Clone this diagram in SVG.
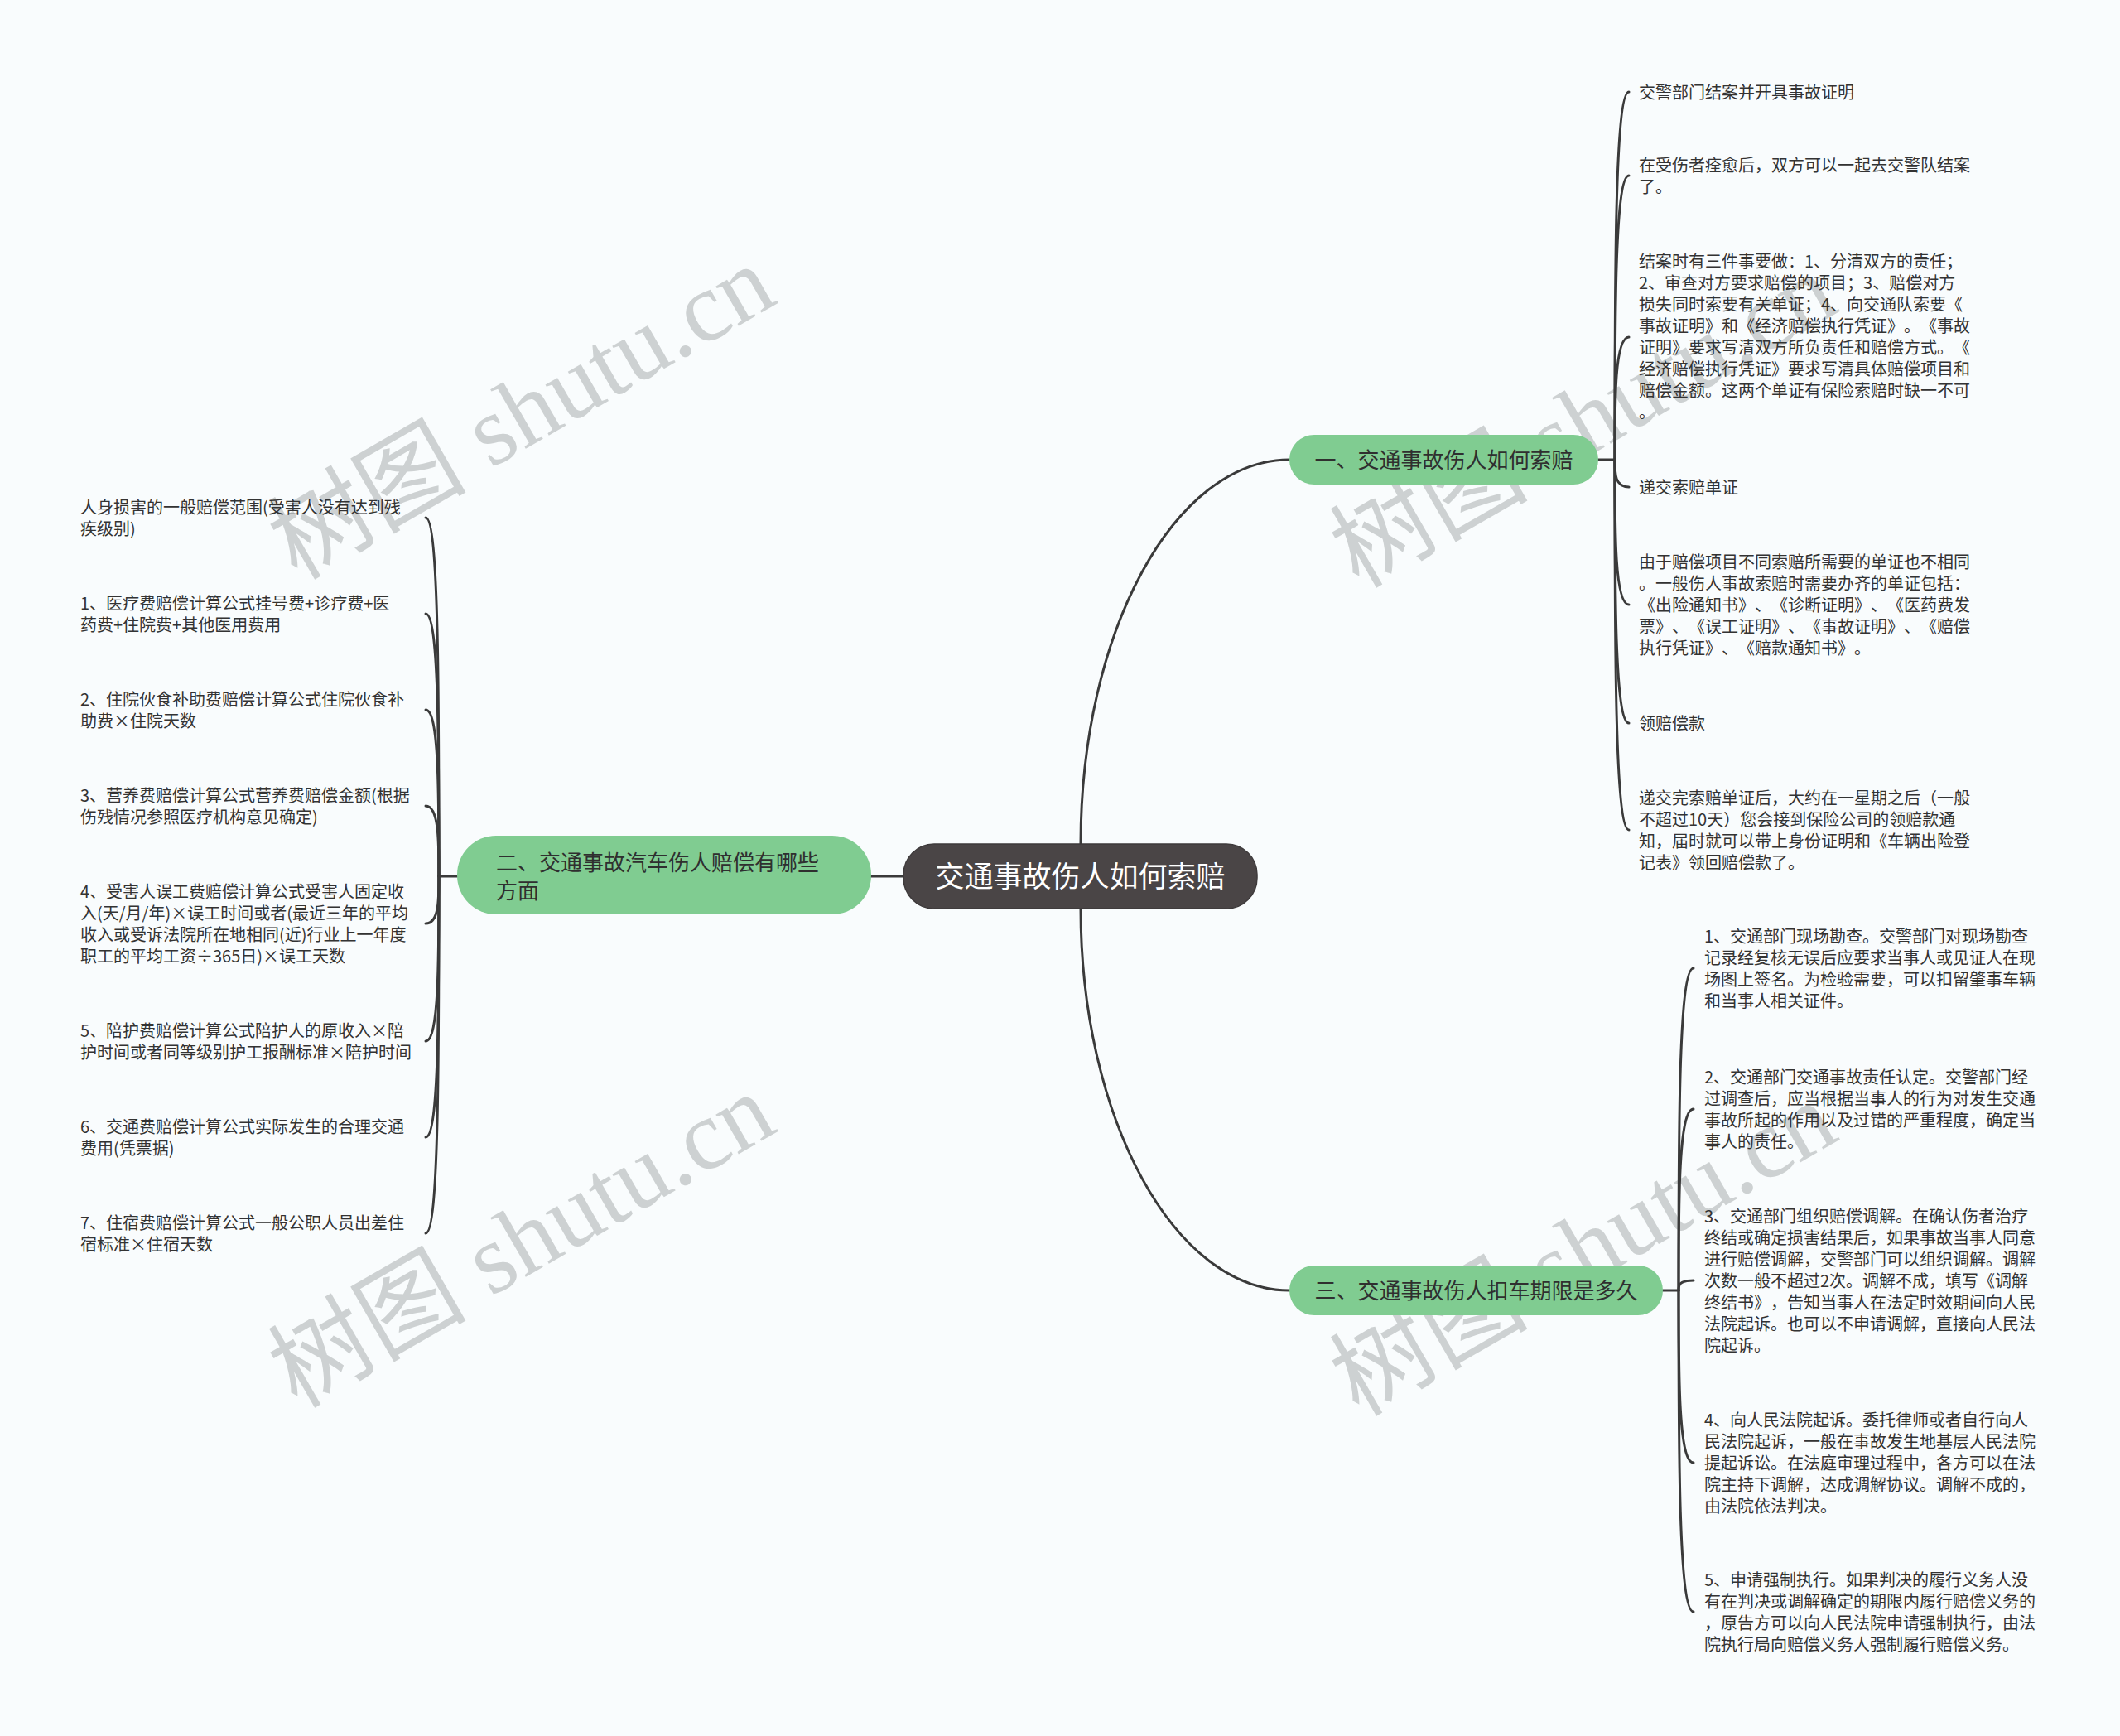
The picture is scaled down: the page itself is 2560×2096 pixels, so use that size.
<svg xmlns="http://www.w3.org/2000/svg" width="2560" height="2096" viewBox="0 0 2560 2096">
<style>
text{text-spacing-trim:space-all}
.wm{font-family:"Liberation Serif","Noto Sans CJK SC",serif;font-size:120px;fill:#cdd1d2;text-anchor:middle}
.leaf{font-family:"Noto Sans CJK SC","Noto Sans",sans-serif;font-size:20px;fill:#333333}
.br{font-family:"Noto Sans CJK SC","Noto Sans",sans-serif;font-size:26px;fill:#2f2f2f}
.root{font-family:"Noto Sans CJK SC","Noto Sans",sans-serif;font-size:35px;fill:#ffffff;text-anchor:middle}
.ln{fill:none;stroke:#3a3a3a;stroke-width:3;stroke-linecap:round}
.gn{fill:#80cc91}
</style>
<rect x="0" y="0" width="2560" height="2096" fill="#f9fcfd"/>
<g id="watermarks">
<text class="wm" x="650" y="533" transform="rotate(-30 650 533)">树图 shutu.cn</text>
<text class="wm" x="650" y="1533" transform="rotate(-30 650 1533)">树图 shutu.cn</text>
<text class="wm" x="1932" y="543" transform="rotate(-30 1932 543)">树图 shutu.cn</text>
<text class="wm" x="1932" y="1543" transform="rotate(-30 1932 1543)">树图 shutu.cn</text>
</g>
<g id="connectors">
<path class="ln" d="M1305 1019 C1305 763 1418 555 1557 555"/>
<path class="ln" d="M1305 1097 C1305 1350 1418 1558 1557 1558"/>
<path class="ln" d="M1052 1058 L1091 1058"/>
<path class="ln" d="M1930 555 L1950 555"/>
<path class="ln" d="M1950 555 C1950 333 1950 111 1967 111"/>
<path class="ln" d="M1950 555 C1950 384 1950 212 1967 212"/>
<path class="ln" d="M1950 555 C1950 481 1950 407 1967 407"/>
<path class="ln" d="M1950 555 C1950 572 1950 588 1967 588"/>
<path class="ln" d="M1950 555 C1950 643 1950 730 1967 730"/>
<path class="ln" d="M1950 555 C1950 714 1950 873 1967 873"/>
<path class="ln" d="M1950 555 C1950 779 1950 1002 1967 1002"/>
<path class="ln" d="M2008 1558 L2027 1558"/>
<path class="ln" d="M2027 1558 C2027 1364 2027 1169 2045 1169"/>
<path class="ln" d="M2027 1558 C2027 1449 2027 1339 2045 1339"/>
<path class="ln" d="M2027 1558 C2027 1552 2027 1546 2045 1546"/>
<path class="ln" d="M2027 1558 C2027 1662 2027 1766 2045 1766"/>
<path class="ln" d="M2027 1558 C2027 1752 2027 1946 2045 1946"/>
<path class="ln" d="M552 1058 L530 1058"/>
<path class="ln" d="M530 1058 C530 842 530 625 514 625"/>
<path class="ln" d="M530 1058 C530 900 530 741 514 741"/>
<path class="ln" d="M530 1058 C530 958 530 857 514 857"/>
<path class="ln" d="M530 1058 C530 1016 530 973 514 973"/>
<path class="ln" d="M530 1058 C530 1087 530 1115 514 1115"/>
<path class="ln" d="M530 1058 C530 1158 530 1257 514 1257"/>
<path class="ln" d="M530 1058 C530 1216 530 1373 514 1373"/>
<path class="ln" d="M530 1058 C530 1274 530 1489 514 1489"/>
</g>
<g id="root">
<rect x="1091" y="1019" width="427" height="78" rx="37" fill="#4a4546" stroke="#3e3a3b" stroke-width="1.5"/>
<text class="root" x="1304.5" y="1071">交通事故伤人如何索赔</text>
</g>
<g id="branch1">
<rect class="gn" x="1557" y="525" width="373" height="60" rx="30"/>
<text class="br" x="1743.5" y="565" text-anchor="middle">一、交通事故伤人如何索赔</text>
</g>
<g id="branch2">
<rect class="gn" x="552" y="1009" width="500" height="95" rx="47"/>
<text class="br"><tspan x="599" y="1051">二、交通事故汽车伤人赔偿有哪些</tspan><tspan x="599" y="1085">方面</tspan></text>
</g>
<g id="branch3">
<rect class="gn" x="1557" y="1528" width="451" height="60" rx="30"/>
<text class="br" x="1782.5" y="1568" text-anchor="middle">三、交通事故伤人扣车期限是多久</text>
</g>
<g id="leaf1-1"><text class="leaf"><tspan x="1979" y="119">交警部门结案并开具事故证明</tspan></text></g>
<g id="leaf1-2"><text class="leaf"><tspan x="1979" y="207">在受伤者痊愈后，双方可以一起去交警队结案</tspan><tspan x="1979" y="233">了。</tspan></text></g>
<g id="leaf1-3"><text class="leaf"><tspan x="1979" y="323">结案时有三件事要做：1、分清双方的责任；</tspan><tspan x="1979" y="349">2、审查对方要求赔偿的项目；3、赔偿对方</tspan><tspan x="1979" y="375">损失同时索要有关单证；4、向交通队索要《</tspan><tspan x="1979" y="401">事故证明》和《经济赔偿执行凭证》。《事故</tspan><tspan x="1979" y="427">证明》要求写清双方所负责任和赔偿方式。《</tspan><tspan x="1979" y="453">经济赔偿执行凭证》要求写清具体赔偿项目和</tspan><tspan x="1979" y="479">赔偿金额。这两个单证有保险索赔时缺一不可</tspan><tspan x="1979" y="505">。</tspan></text></g>
<g id="leaf1-4"><text class="leaf"><tspan x="1979" y="596">递交索赔单证</tspan></text></g>
<g id="leaf1-5"><text class="leaf"><tspan x="1979" y="686">由于赔偿项目不同索赔所需要的单证也不相同</tspan><tspan x="1979" y="712">。一般伤人事故索赔时需要办齐的单证包括：</tspan><tspan x="1979" y="738">《出险通知书》、《诊断证明》、《医药费发</tspan><tspan x="1979" y="764">票》、《误工证明》、《事故证明》、《赔偿</tspan><tspan x="1979" y="790">执行凭证》、《赔款通知书》。</tspan></text></g>
<g id="leaf1-6"><text class="leaf"><tspan x="1979" y="881">领赔偿款</tspan></text></g>
<g id="leaf1-7"><text class="leaf"><tspan x="1979" y="971">递交完索赔单证后，大约在一星期之后（一般</tspan><tspan x="1979" y="997">不超过10天）您会接到保险公司的领赔款通</tspan><tspan x="1979" y="1023">知，届时就可以带上身份证明和《车辆出险登</tspan><tspan x="1979" y="1049">记表》领回赔偿款了。</tspan></text></g>
<g id="leaf3-1"><text class="leaf"><tspan x="2058" y="1138">1、交通部门现场勘查。交警部门对现场勘查</tspan><tspan x="2058" y="1164">记录经复核无误后应要求当事人或见证人在现</tspan><tspan x="2058" y="1190">场图上签名。为检验需要，可以扣留肇事车辆</tspan><tspan x="2058" y="1216">和当事人相关证件。</tspan></text></g>
<g id="leaf3-2"><text class="leaf"><tspan x="2058" y="1308">2、交通部门交通事故责任认定。交警部门经</tspan><tspan x="2058" y="1334">过调查后，应当根据当事人的行为对发生交通</tspan><tspan x="2058" y="1360">事故所起的作用以及过错的严重程度，确定当</tspan><tspan x="2058" y="1386">事人的责任。</tspan></text></g>
<g id="leaf3-3"><text class="leaf"><tspan x="2058" y="1476">3、交通部门组织赔偿调解。在确认伤者治疗</tspan><tspan x="2058" y="1502">终结或确定损害结果后，如果事故当事人同意</tspan><tspan x="2058" y="1528">进行赔偿调解，交警部门可以组织调解。调解</tspan><tspan x="2058" y="1554">次数一般不超过2次。调解不成，填写《调解</tspan><tspan x="2058" y="1580">终结书》，告知当事人在法定时效期间向人民</tspan><tspan x="2058" y="1606">法院起诉。也可以不申请调解，直接向人民法</tspan><tspan x="2058" y="1632">院起诉。</tspan></text></g>
<g id="leaf3-4"><text class="leaf"><tspan x="2058" y="1722">4、向人民法院起诉。委托律师或者自行向人</tspan><tspan x="2058" y="1748">民法院起诉，一般在事故发生地基层人民法院</tspan><tspan x="2058" y="1774">提起诉讼。在法庭审理过程中，各方可以在法</tspan><tspan x="2058" y="1800">院主持下调解，达成调解协议。调解不成的，</tspan><tspan x="2058" y="1826">由法院依法判决。</tspan></text></g>
<g id="leaf3-5"><text class="leaf"><tspan x="2058" y="1915">5、申请强制执行。如果判决的履行义务人没</tspan><tspan x="2058" y="1941">有在判决或调解确定的期限内履行赔偿义务的</tspan><tspan x="2058" y="1967">，原告方可以向人民法院申请强制执行，由法</tspan><tspan x="2058" y="1993">院执行局向赔偿义务人强制履行赔偿义务。</tspan></text></g>
<g id="leaf2-0"><text class="leaf"><tspan x="97" y="620">人身损害的一般赔偿范围(受害人没有达到残</tspan><tspan x="97" y="646">疾级别)</tspan></text></g>
<g id="leaf2-1"><text class="leaf"><tspan x="97" y="736">1、医疗费赔偿计算公式挂号费+诊疗费+医</tspan><tspan x="97" y="762">药费+住院费+其他医用费用</tspan></text></g>
<g id="leaf2-2"><text class="leaf"><tspan x="97" y="852">2、住院伙食补助费赔偿计算公式住院伙食补</tspan><tspan x="97" y="878">助费×住院天数</tspan></text></g>
<g id="leaf2-3"><text class="leaf"><tspan x="97" y="968">3、营养费赔偿计算公式营养费赔偿金额(根据</tspan><tspan x="97" y="994">伤残情况参照医疗机构意见确定)</tspan></text></g>
<g id="leaf2-4"><text class="leaf"><tspan x="97" y="1084">4、受害人误工费赔偿计算公式受害人固定收</tspan><tspan x="97" y="1110">入(天/月/年)×误工时间或者(最近三年的平均</tspan><tspan x="97" y="1136">收入或受诉法院所在地相同(近)行业上一年度</tspan><tspan x="97" y="1162">职工的平均工资÷365日)×误工天数</tspan></text></g>
<g id="leaf2-5"><text class="leaf"><tspan x="97" y="1252">5、陪护费赔偿计算公式陪护人的原收入×陪</tspan><tspan x="97" y="1278">护时间或者同等级别护工报酬标准×陪护时间</tspan></text></g>
<g id="leaf2-6"><text class="leaf"><tspan x="97" y="1368">6、交通费赔偿计算公式实际发生的合理交通</tspan><tspan x="97" y="1394">费用(凭票据)</tspan></text></g>
<g id="leaf2-7"><text class="leaf"><tspan x="97" y="1484">7、住宿费赔偿计算公式一般公职人员出差住</tspan><tspan x="97" y="1510">宿标准×住宿天数</tspan></text></g>
</svg>
